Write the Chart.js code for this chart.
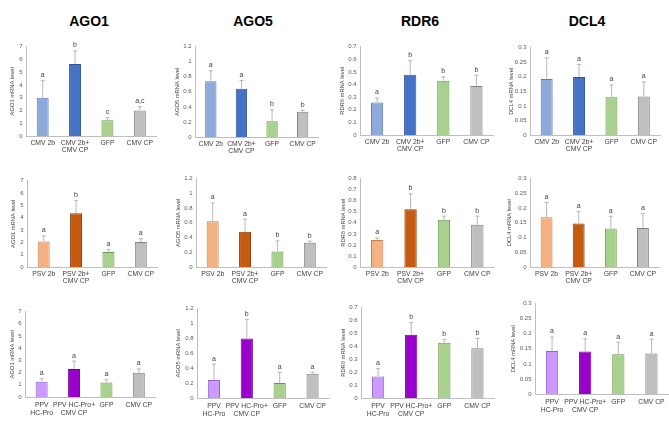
<!DOCTYPE html>
<html>
<head>
<meta charset="utf-8">
<script src="https://cdn.jsdelivr.net/npm/chart.js@4.4.1/dist/chart.umd.min.js"></script>
<style>
  body { margin: 0; width: 669px; height: 424px; background: #fff; position: relative; overflow: hidden; font-family: "Liberation Sans", Arial, sans-serif; }
  .gene { position: absolute; top: 13px; width: 80px; margin-left: -40px; text-align: center; font-weight: bold; font-size: 14px; color: #000; }
  canvas { position: absolute; }
</style>
</head>
<body>
<script>
// genes (columns) and treatments (rows)
const genes = ['AGO1', 'AGO5', 'RDR6', 'DCL4'];
const cmvLabels = ['CMV 2b', ['CMV 2b+', 'CMV CP'], 'GFP', 'CMV CP'];
const psvLabels = ['PSV 2b', ['PSV 2b+', 'CMV CP'], 'GFP', 'CMV CP'];
const ppvLabels = [['PPV', 'HC-Pro'], ['PPV HC-Pro+', 'CMV CP'], 'GFP', 'CMV CP'];

// one row per treatment set: CMV, PSV, PPV
const ago1Means = [[3.0, 5.64, 1.23, 2.0], [2.07, 4.36, 1.22, 2.02], [1.26, 2.3, 1.18, 1.98]];
const ago1Errors = [[1.33, 1.03, 0.2, 0.3], [0.45, 1.04, 0.19, 0.27], [0.24, 0.64, 0.24, 0.32]];
const ago1Letters = [['a', 'b', 'c', 'a,c'], ['a', 'b', 'a', 'a'], ['a', 'a', 'a', 'a']];

const ago5Means = [[0.74, 0.64, 0.21, 0.335], [0.62, 0.48, 0.21, 0.33], [0.24, 0.8, 0.2, 0.325]];
const ago5Errors = [[0.14, 0.11, 0.15, 0.02], [0.25, 0.17, 0.145, 0.02], [0.215, 0.255, 0.145, 0.022]];
const ago5Letters = [['a', 'a', 'b', 'b'], ['a', 'a', 'b', 'b'], ['a', 'b', 'a', 'a']];

const rdr6Means = [[0.258, 0.478, 0.43, 0.388], [0.245, 0.522, 0.428, 0.383], [0.167, 0.49, 0.427, 0.386]];
const rdr6Errors = [[0.035, 0.11, 0.03, 0.085], [0.018, 0.14, 0.032, 0.077], [0.06, 0.096, 0.028, 0.076]];
const rdr6Letters = [['a', 'b', 'b', 'b'], ['a', 'b', 'b', 'b'], ['a', 'b', 'b', 'b']];

const dcl4Means = [[0.192, 0.199, 0.13, 0.132], [0.169, 0.148, 0.131, 0.132], [0.143, 0.141, 0.132, 0.134]];
const dcl4Errors = [[0.073, 0.043, 0.042, 0.05], [0.05, 0.04, 0.041, 0.049], [0.046, 0.042, 0.04, 0.048]];
const dcl4Letters = [['a', 'a', 'a', 'a'], ['a', 'a', 'a', 'a'], ['a', 'a', 'a', 'a']];

// y axis ticks
const ago1Max = [7, 7, 7], ago1Step = 1;
const ago5Max = [1.2, 1.2, 1.2], ago5Step = 0.2;
const rdr6Max = [0.7, 0.8, 0.7], rdr6Step = 0.1;
const dcl4Max = [0.3, 0.3, 0.3], dcl4Step = 0.05;

// colours per row
const fills = [
  ['#8eaadb', '#4472c4', '#a9d18e', '#bfbfbf'],
  ['#f4b183', '#c55a11', '#a9d18e', '#bfbfbf'],
  ['#cc99ff', '#9900cc', '#a9d18e', '#bfbfbf']
];
const borders = [
  ['#5a7cbd', '#2f5597', '#6a984a', '#808080'],
  ['#c2804f', '#843c0c', '#6a984a', '#808080'],
  ['#9466c8', '#66008a', '#6a984a', '#808080']
];

// plot area of each panel on the page: [left, top, right, bottom]
const boxes = [
  [[26, 45, 155, 136], [195, 45, 317, 137], [360, 45, 492, 135], [530, 46, 659, 135]],
  [[27, 179, 156, 267], [196, 177, 325, 267], [360, 177, 493, 267], [530, 177, 658, 267]],
  [[25, 310, 154, 397], [197, 307, 328, 398], [361, 306, 493, 398], [535, 302, 667, 394]]
];
const titleX = [[12, 177, 342, 511], [13, 178, 343, 509], [12, 178, 343, 513]];
const geneX = [89, 253, 420, 587];

const FONT = '"Liberation Sans", Arial, sans-serif';
const rowLabels = [cmvLabels, psvLabels, ppvLabels];
const means = [ago1Means, ago5Means, rdr6Means, dcl4Means];
const errors = [ago1Errors, ago5Errors, rdr6Errors, dcl4Errors];
const letters = [ago1Letters, ago5Letters, rdr6Letters, dcl4Letters];
const maxes = [ago1Max, ago5Max, rdr6Max, dcl4Max];
const steps = [ago1Step, ago5Step, rdr6Step, dcl4Step];

genes.forEach((g, c) => {
  const d = document.createElement('div');
  d.className = 'gene';
  d.style.left = geneX[c] + 'px';
  d.textContent = g;
  document.body.appendChild(d);
});

// upper error bar + significance letter above each bar
function errorMarks(m, e, l) {
  return {
    id: 'errorMarks',
    afterDatasetsDraw(chart) {
      const ctx = chart.ctx;
      const y = chart.scales.y;
      ctx.save();
      chart.getDatasetMeta(0).data.forEach((bar, i) => {
        const top = y.getPixelForValue(m[i] + e[i]);
        ctx.strokeStyle = '#a6a6a6';
        ctx.lineWidth = 0.8;
        ctx.beginPath();
        ctx.moveTo(bar.x, bar.y);
        ctx.lineTo(bar.x, top);
        ctx.moveTo(bar.x - 2, top);
        ctx.lineTo(bar.x + 2, top);
        ctx.stroke();
        ctx.fillStyle = '#404040';
        ctx.font = '7px ' + FONT;
        ctx.textAlign = 'center';
        ctx.textBaseline = 'bottom';
        ctx.fillText(l[i], bar.x, top - 2);
      });
      ctx.restore();
    }
  };
}

const padTop = 6, padRight = 6, xHeight = 22;

for (let r = 0; r < 3; r++) {
  for (let c = 0; c < 4; c++) {
    const [L, T, R, B] = boxes[r][c];
    const yWidth = L - titleX[r][c] + 3.5;
    const cv = document.createElement('canvas');
    const w = Math.round(yWidth + (R - L) + padRight);
    const h = Math.round(padTop + (B - T) + xHeight);
    cv.width = w; cv.height = h;
    cv.style.width = w + 'px'; cv.style.height = h + 'px';
    cv.style.left = (L - yWidth) + 'px';
    cv.style.top = (T - padTop) + 'px';
    document.body.appendChild(cv);

    new Chart(cv, {
      type: 'bar',
      data: {
        labels: rowLabels[r],
        datasets: [{
          data: means[c][r],
          backgroundColor: fills[r],
          borderColor: borders[r],
          borderWidth: 1,
          barPercentage: 0.37,
          categoryPercentage: 1
        }]
      },
      options: {
        responsive: false,
        animation: false,
        devicePixelRatio: 1,
        layout: { padding: { top: padTop, right: padRight, left: 0, bottom: 0 } },
        plugins: { legend: { display: false }, tooltip: { enabled: false } },
        scales: {
          x: {
            grid: { display: false, drawTicks: false },
            border: { display: true, color: '#bfbfbf', width: 1 },
            ticks: {
              autoSkip: false, maxRotation: 0, minRotation: 0, padding: 4,
              color: '#404040',
              font: { family: FONT, size: 6.8, lineHeight: r === 2 ? 1.2 : 1.0 }
            },
            afterFit: s => { s.height = xHeight; }
          },
          y: {
            min: 0, max: maxes[c][r],
            grid: { display: false, drawTicks: false },
            border: { display: true, color: '#bfbfbf', width: 1 },
            ticks: {
              stepSize: steps[c], padding: 4, color: '#595959',
              font: { family: FONT, size: 6 },
              callback: v => String(+v.toFixed(2))
            },
            title: {
              display: true, text: genes[c] + ' mRNA level', color: '#404040',
              padding: 0, font: { family: FONT, size: 5.8 }
            },
            afterFit: s => { s.width = yWidth; }
          }
        }
      },
      plugins: [errorMarks(means[c][r], errors[c][r], letters[c][r])]
    });
  }
}
</script>
</body>
</html>
